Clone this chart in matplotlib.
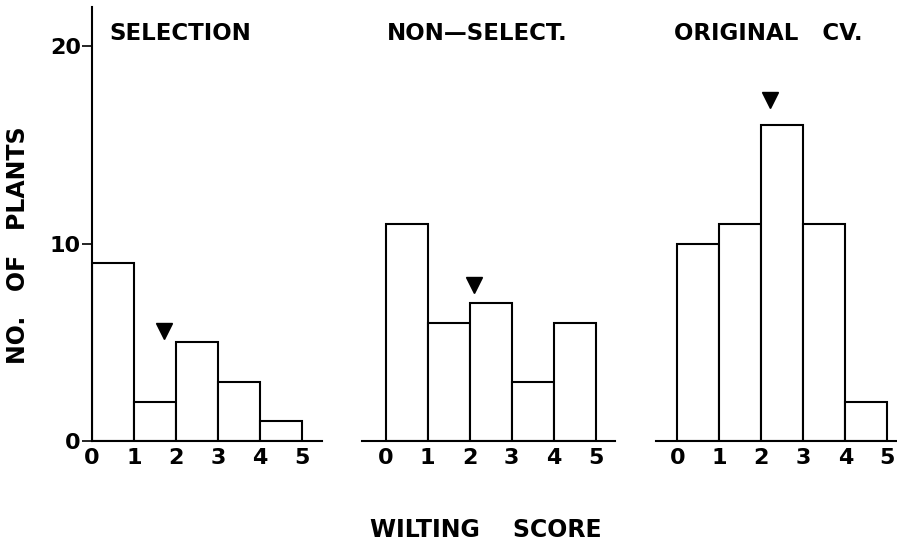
import matplotlib.pyplot as plt

# wilting score histograms, bins 0-1 ... 4-5
bins = [0, 1, 2, 3, 4]
selection = [9, 2, 5, 3, 1]
non_select = [11, 6, 7, 3, 6]
original = [10, 11, 16, 11, 2]
titles = ["SELECTION", "NON\u2014SELECT.", "ORIGINAL   CV."]
# mean markers (x, y)
mean_x = [1.71, 2.11, 2.21]
mean_y = [5.6, 7.9, 17.3]

plt.rcParams['font.family'] = ['DejaVu Sans']
plt.rcParams['font.weight'] = 'bold'

fig = plt.figure(figsize=(8.97, 5.54), dpi=100)
W, H = 897.0, 554.0
bottom = (H - 441) / H
height = (441 - 7) / H
ppu = 42.0  # pixels per score unit

# (left pixel, pixel of x=0, right pixel)
frames = [(92, 92, 322), (362, 385.7, 615), (656, 677.3, 897)]
data = [selection, non_select, original]

for i, (lp, zp, rp) in enumerate(frames):
    ax = fig.add_axes([lp / W, bottom, (rp - lp) / W, height])
    ax.bar(bins, data[i], width=1, align='edge', facecolor='white',
           edgecolor='black', linewidth=1.5)
    ax.plot([mean_x[i]], [mean_y[i]], marker='v', color='black',
            markersize=12, linestyle='none')
    ax.set_xlim((lp - zp) / ppu, (rp - zp) / ppu)
    ax.set_ylim(0, 22)
    ax.set_xticks([0, 1, 2, 3, 4, 5])
    ax.tick_params(axis='x', length=0, labelsize=16, pad=5)
    for s in ['top', 'right']:
        ax.spines[s].set_visible(False)
    ax.spines['bottom'].set_linewidth(1.5)
    if i == 0:
        ax.set_yticks([0, 10, 20])
        ax.tick_params(axis='y', length=7, width=1.2, labelsize=16, pad=1)
        ax.spines['left'].set_linewidth(1.5)
    else:
        ax.spines['left'].set_visible(False)
        ax.set_yticks([])

fig.text(180 / W, 1 - 34 / H, titles[0], ha='center', va='center', fontsize=16.5)
fig.text(477 / W, 1 - 34 / H, titles[1], ha='center', va='center', fontsize=16.5)
fig.text(768 / W, 1 - 34 / H, titles[2], ha='center', va='center', fontsize=16.5)
fig.text(18 / W, 1 - 245 / H, "NO.   OF   PLANTS", ha='center', va='center',
         rotation=90, fontsize=17)
fig.text(486 / W, 1 - 530 / H, "WILTING    SCORE", ha='center', va='center',
         fontsize=17)

fig.savefig("out.png", dpi=100)
